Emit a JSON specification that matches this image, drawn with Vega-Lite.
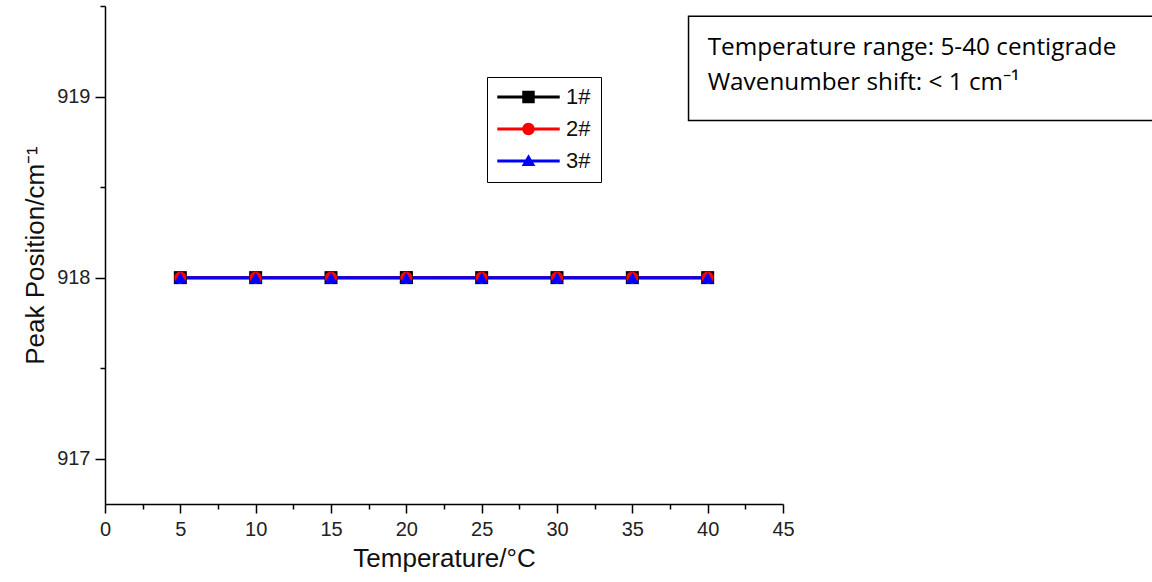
{
  "$schema": "https://vega.github.io/schema/vega-lite/v6.json",
  "width": 678,
  "height": 498,
  "autosize": {"type": "none"},
  "padding": {"left": 105, "top": 6, "right": 369, "bottom": 78},
  "background": "white",
  "config": {
    "view": {"stroke": null},
    "font": "Liberation Sans",
    "axis": {"grid": false, "domainColor": "black", "tickColor": "black", "labelColor": "#222", "titleColor": "#111", "labelFont": "Liberation Sans", "titleFont": "Liberation Sans", "titleFontWeight": "normal", "domainWidth": 1.5, "tickWidth": 1.5}
  },
  "datasets": {
    "peaks": [
      {"temperature": 5, "peak": 918, "series": "1#"},
      {"temperature": 10, "peak": 918, "series": "1#"},
      {"temperature": 15, "peak": 918, "series": "1#"},
      {"temperature": 20, "peak": 918, "series": "1#"},
      {"temperature": 25, "peak": 918, "series": "1#"},
      {"temperature": 30, "peak": 918, "series": "1#"},
      {"temperature": 35, "peak": 918, "series": "1#"},
      {"temperature": 40, "peak": 918, "series": "1#"},
      {"temperature": 5, "peak": 918, "series": "2#"},
      {"temperature": 10, "peak": 918, "series": "2#"},
      {"temperature": 15, "peak": 918, "series": "2#"},
      {"temperature": 20, "peak": 918, "series": "2#"},
      {"temperature": 25, "peak": 918, "series": "2#"},
      {"temperature": 30, "peak": 918, "series": "2#"},
      {"temperature": 35, "peak": 918, "series": "2#"},
      {"temperature": 40, "peak": 918, "series": "2#"},
      {"temperature": 5, "peak": 918, "series": "3#"},
      {"temperature": 10, "peak": 918, "series": "3#"},
      {"temperature": 15, "peak": 918, "series": "3#"},
      {"temperature": 20, "peak": 918, "series": "3#"},
      {"temperature": 25, "peak": 918, "series": "3#"},
      {"temperature": 30, "peak": 918, "series": "3#"},
      {"temperature": 35, "peak": 918, "series": "3#"},
      {"temperature": 40, "peak": 918, "series": "3#"}
    ],
    "note": [
      {"x1": 38.73, "x2": 70, "y1": 919.444, "y2": 918.868}
    ],
    "noteText": [
      {"x": 40, "y": 919.27, "text": "Temperature range: 5-40 centigrade"},
      {"x": 40, "y": 919.075, "text": "Wavenumber shift: < 1 cm⁻¹"}
    ]
  },
  "resolve": {"axis": {"x": "independent", "y": "independent"}},
  "layer": [
    {
      "data": {"name": "peaks"},
      "transform": [{"filter": "datum.temperature == 20"}],
      "mark": {"type": "point", "filled": true, "opacity": 1, "size": 3900, "strokeWidth": 0},
      "encoding": {
        "x": {"field": "temperature", "type": "quantitative", "axis": null},
        "y": {"field": "peak", "type": "quantitative", "axis": null},
        "color": {"field": "series", "type": "nominal", "scale": {"range": ["#000000", "#ff0000", "#0000ff"]},
          "legend": {"orient": "none", "legendX": 382, "legendY": 71, "title": null, "strokeColor": "black", "padding": 10, "labelFontSize": 22, "labelFont": "Liberation Sans", "labelColor": "#111", "symbolSize": 3900, "clipHeight": 20, "labelOffset": 6, "rowPadding": 10, "symbolStrokeWidth": 0}},
        "shape": {"field": "series", "type": "nominal", "scale": {"range": [
          "M-1,-0.045H1V0.045H-1Z M-0.2,-0.2H0.2V0.2H-0.2Z",
          "M-1,-0.045H1V0.045H-1Z M-0.2,0A0.2,0.2 0 1,1 0.2,0A0.2,0.2 0 1,1 -0.2,0Z",
          "M-1,-0.045H1V0.045H-1Z M0,-0.22L0.22,0.16H-0.22Z"
        ]},
          "legend": {"orient": "none", "legendX": 382, "legendY": 71, "title": null, "strokeColor": "black", "padding": 10, "labelFontSize": 22, "labelFont": "Liberation Sans", "labelColor": "#111", "symbolSize": 3900, "clipHeight": 20, "labelOffset": 6, "rowPadding": 10, "symbolStrokeWidth": 0}}
      }
    },
    {
      "data": {"name": "peaks"},
      "mark": {"type": "line", "strokeWidth": 3},
      "encoding": {
        "x": {"field": "temperature", "type": "quantitative", "scale": {"domain": [0, 45], "nice": false, "zero": false},
          "axis": {"orient": "bottom", "values": [0, 5, 10, 15, 20, 25, 30, 35, 40, 45], "title": "Temperature/°C", "labelFontSize": 20, "titleFontSize": 26, "tickSize": 9, "labelPadding": 6, "titlePadding": 6, "labelFlush": false}},
        "y": {"field": "peak", "type": "quantitative", "scale": {"domain": [916.75, 919.5], "nice": false, "zero": false},
          "axis": {"orient": "left", "values": [917, 918, 919], "title": "Peak Position/cm⁻¹", "labelFontSize": 20, "titleFontSize": 26, "tickSize": 10, "labelPadding": 5, "titlePadding": 8, "format": "d"}},
        "stroke": {"field": "series", "type": "nominal", "scale": {"range": ["#000000", "#ff0000", "#0000ff"]}, "legend": null}
      }
    },
    {
      "data": {"name": "peaks"},
      "transform": [{"filter": "datum.series == '1#'"}],
      "mark": {"type": "point", "shape": "square", "filled": true, "opacity": 1, "size": 169, "color": "#000000", "strokeWidth": 0},
      "encoding": {
        "x": {"field": "temperature", "type": "quantitative", "axis": {"orient": "bottom", "values": [2.5, 7.5, 12.5, 17.5, 22.5, 27.5, 32.5, 37.5, 42.5], "labels": false, "domain": false, "tickSize": 5, "title": null}},
        "y": {"field": "peak", "type": "quantitative", "axis": {"orient": "left", "values": [917.5, 918.5, 919.5], "labels": false, "domain": false, "tickSize": 5, "title": null}}
      }
    },
    {
      "data": {"name": "peaks"},
      "transform": [{"filter": "datum.series == '2#'"}],
      "mark": {"type": "point", "shape": "circle", "filled": true, "opacity": 1, "size": 150, "color": "#ff0000", "strokeWidth": 0},
      "encoding": {
        "x": {"field": "temperature", "type": "quantitative", "axis": null},
        "y": {"field": "peak", "type": "quantitative", "axis": null}
      }
    },
    {
      "data": {"name": "peaks"},
      "transform": [{"filter": "datum.series == '3#'"}],
      "mark": {"type": "point", "shape": "triangle-up", "filled": true, "opacity": 1, "size": 150, "color": "#0000ff", "strokeWidth": 0},
      "encoding": {
        "x": {"field": "temperature", "type": "quantitative", "axis": null},
        "y": {"field": "peak", "type": "quantitative", "axis": null}
      }
    },
    {
      "data": {"name": "note"},
      "mark": {"type": "rect", "fill": "white", "stroke": "black", "strokeWidth": 1.5},
      "encoding": {
        "x": {"field": "x1", "type": "quantitative", "axis": null},
        "x2": {"field": "x2"},
        "y": {"field": "y1", "type": "quantitative", "axis": null},
        "y2": {"field": "y2"}
      }
    },
    {
      "data": {"name": "noteText"},
      "mark": {"type": "text", "align": "left", "baseline": "middle", "font": "Open Sans", "fontSize": 24.3, "color": "black"},
      "encoding": {
        "x": {"field": "x", "type": "quantitative", "axis": null},
        "y": {"field": "y", "type": "quantitative", "axis": null},
        "text": {"field": "text"}
      }
    }
  ]
}
